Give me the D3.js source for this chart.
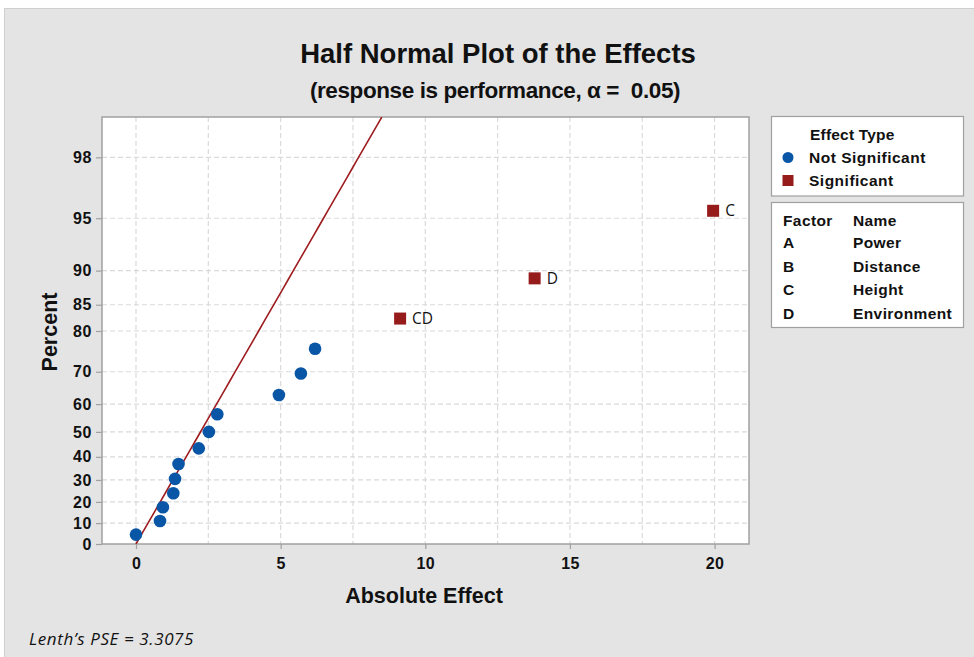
<!DOCTYPE html>
<html>
<head>
<meta charset="utf-8">
<script src="https://cdn.jsdelivr.net/npm/d3@7"></script>
<style>
  html, body { margin: 0; padding: 0; background: #ffffff; }
  svg { display: block; }
  .bold { font-family: "Liberation Sans", Arial, sans-serif; font-weight: bold; fill: #111; }
</style>
</head>
<body>
<svg id="chart" width="974" height="657"></svg>
<script>
// Absolute effects, sorted, with their half-normal plotting percents
const effectNames = ["", "", "", "", "", "", "", "", "", "", "", "", "CD", "D", "C"];
const absEffects  = [0.0, 0.83, 0.93, 1.29, 1.35, 1.47, 2.17, 2.52, 2.81, 4.94, 5.70, 6.19, 9.13, 13.78, 19.95];
const percents    = [4.5, 11.0, 17.5, 24.0, 30.5, 37.0, 43.5, 50.0, 56.5, 63.0, 69.5, 76.0, 82.5, 89.0, 95.5];
const significant = [false, false, false, false, false, false, false, false, false, false, false, false, true, true, true];

const lenthPSE = 3.3075;
const xTicks = [0, 5, 10, 15, 20];
const xGrid = [0, 2.5, 5, 7.5, 10, 12.5, 15, 17.5, 20];
const yTicks = [0, 10, 20, 30, 40, 50, 60, 70, 80, 85, 90, 95, 98];

const factorLetters = ["A", "B", "C", "D"];
const factorNames = ["Power", "Distance", "Height", "Environment"];

// Inverse standard normal CDF (Acklam)
function probit(p) {
  const a = [-3.969683028665376e+01, 2.209460984245205e+02, -2.759285104469687e+02, 1.383577518672690e+02, -3.066479806614716e+01, 2.506628277459239e+00];
  const b = [-5.447609879822406e+01, 1.615858368580409e+02, -1.556989798598866e+02, 6.680131188771972e+01, -1.328068155288572e+01];
  const c = [-7.784894002430293e-03, -3.223964580411365e-01, -2.400758277161838e+00, -2.549732539343734e+00, 4.374664141464968e+00, 2.938163982698783e+00];
  const d = [7.784695709041462e-03, 3.224671290700398e-01, 2.445134137142996e+00, 3.754408145537555e+00];
  const pl = 0.02425;
  let q, r;
  if (p < pl) {
    q = Math.sqrt(-2 * Math.log(p));
    return (((((c[0]*q+c[1])*q+c[2])*q+c[3])*q+c[4])*q+c[5]) / ((((d[0]*q+d[1])*q+d[2])*q+d[3])*q+1);
  } else if (p <= 1 - pl) {
    q = p - 0.5; r = q * q;
    return (((((a[0]*r+a[1])*r+a[2])*r+a[3])*r+a[4])*r+a[5])*q / (((((b[0]*r+b[1])*r+b[2])*r+b[3])*r+b[4])*r+1);
  } else {
    q = Math.sqrt(-2 * Math.log(1 - p));
    return -(((((c[0]*q+c[1])*q+c[2])*q+c[3])*q+c[4])*q+c[5]) / ((((d[0]*q+d[1])*q+d[2])*q+d[3])*q+1);
  }
}
// half-normal score for a percent
const hn = pct => probit(0.5 + pct / 200);

const svg = d3.select("#chart");

// outer panel
svg.append("rect").attr("x", 4.5).attr("y", 8.5).attr("width", 975).attr("height", 660)
  .attr("fill", "#e4e4e4").attr("stroke", "#cfcfcf");

const plot = { left: 102, top: 117, right: 749, bottom: 544 };

const x = d3.scaleLinear().domain([-1.175, 21.19]).range([plot.left, plot.right]);
const zTop = hn(98.98);
const yz = d3.scaleLinear().domain([0, zTop]).range([plot.bottom, plot.top]);
const y = pct => yz(hn(pct));

// plot background
svg.append("rect").attr("x", plot.left).attr("y", plot.top)
  .attr("width", plot.right - plot.left).attr("height", plot.bottom - plot.top)
  .attr("fill", "#ffffff");

// grid
const grid = svg.append("g").attr("stroke", "#dadada").attr("stroke-width", 1.2).attr("stroke-dasharray", "5,3");
grid.selectAll("line.v").data(xGrid).join("line").attr("class", "v")
  .attr("x1", d => x(d)).attr("x2", d => x(d)).attr("y1", plot.top).attr("y2", plot.bottom);
grid.selectAll("line.h").data(yTicks.filter(d => d > 0)).join("line").attr("class", "h")
  .attr("y1", d => y(d)).attr("y2", d => y(d)).attr("x1", plot.left).attr("x2", plot.right);

// axes
const xAxis = d3.axisBottom(x).tickValues(xTicks).tickSize(5).tickPadding(9).tickFormat(d3.format("d"));
const gx = svg.append("g").attr("transform", `translate(0,${plot.bottom})`).call(xAxis);
gx.select(".domain").remove();
gx.selectAll(".tick line").attr("stroke", "#a0a0a0").attr("stroke-width", 1.2);
gx.selectAll(".tick text").attr("font-size", 16).attr("fill", "#111").attr("letter-spacing", 0.3)
  .attr("font-family", "Liberation Sans, Arial, sans-serif").attr("font-weight", "bold");

const yAxis = d3.axisLeft(yz).tickValues(yTicks.map(hn)).tickSize(6).tickPadding(4)
  .tickFormat((d, i) => yTicks[i]);
const gy = svg.append("g").attr("transform", `translate(${plot.left},0)`).call(yAxis);
gy.select(".domain").remove();
gy.selectAll(".tick line").attr("stroke", "#a0a0a0").attr("stroke-width", 1.2);
gy.selectAll(".tick text").attr("font-size", 16).attr("fill", "#111").attr("letter-spacing", 0.6)
  .attr("font-family", "Liberation Sans, Arial, sans-serif").attr("font-weight", "bold");

// plot border
svg.append("rect").attr("x", plot.left).attr("y", plot.top)
  .attr("width", plot.right - plot.left).attr("height", plot.bottom - plot.top)
  .attr("fill", "none").attr("stroke", "#a0a0a0").attr("stroke-width", 1.5);

// reference line: effect = PSE * half-normal score
const clip = svg.append("clipPath").attr("id", "plotclip").append("rect")
  .attr("x", plot.left).attr("y", plot.top).attr("width", plot.right - plot.left).attr("height", plot.bottom - plot.top);
const zs = d3.range(0, zTop + 0.001, zTop / 50);
svg.append("path").attr("clip-path", "url(#plotclip)")
  .datum(zs)
  .attr("d", d3.line().x(z => x(lenthPSE * z)).y(z => yz(z)))
  .attr("fill", "none").attr("stroke", "#9e1c1f").attr("stroke-width", 1.6);

// points
const pts = absEffects.map((e, i) => ({ e, p: percents[i], sig: significant[i], name: effectNames[i] }));
svg.selectAll("circle.pt").data(pts.filter(d => !d.sig)).join("circle").attr("class", "pt")
  .attr("cx", d => x(d.e)).attr("cy", d => y(d.p)).attr("r", 6.3).attr("fill", "#0a56a6");
svg.selectAll("rect.pt").data(pts.filter(d => d.sig)).join("rect").attr("class", "pt")
  .attr("x", d => x(d.e) - 6).attr("y", d => y(d.p) - 6).attr("width", 12).attr("height", 12)
  .attr("fill", "#961b1b");
svg.selectAll("text.pl").data(pts.filter(d => d.name)).join("text").attr("class", "pl")
  .attr("x", d => x(d.e) + 12).attr("y", d => y(d.p) + 5.5)
  .attr("font-family", "Open Sans, Noto Sans, sans-serif").attr("font-size", 15.5).attr("fill", "#111")
  .text(d => d.name);

// titles
svg.append("text").attr("class", "bold").attr("x", 498).attr("y", 63).attr("text-anchor", "middle")
  .attr("font-size", 27.5).text("Half Normal Plot of the Effects");
svg.append("text").attr("class", "bold").attr("x", 495).attr("y", 98).attr("text-anchor", "middle")
  .style("white-space", "pre")
  .attr("font-size", 22.5).attr("letter-spacing", -0.4).text("(response is performance, α =  0.05)");
svg.append("text").attr("class", "bold").attr("x", 424).attr("y", 603).attr("text-anchor", "middle")
  .attr("font-size", 21.5).text("Absolute Effect");
svg.append("text").attr("class", "bold").attr("transform", "translate(57,332) rotate(-90)")
  .attr("text-anchor", "middle").attr("font-size", 21.5).text("Percent");
svg.append("text").attr("x", 29).attr("y", 645)
  .attr("font-family", "Open Sans, Noto Sans, sans-serif").attr("font-style", "italic")
  .attr("font-size", 17).attr("letter-spacing", 0.6).attr("fill", "#111").text("Lenth’s PSE = 3.3075");

// legend: effect type
const lg = svg.append("g");
const lfs = 15.5;
lg.append("rect").attr("x", 771.5).attr("y", 116.5).attr("width", 192).attr("height", 79.5)
  .attr("fill", "#ffffff").attr("stroke", "#a0a0a0").attr("stroke-width", 1.2);
lg.append("text").attr("class", "bold").attr("x", 810).attr("y", 140).attr("font-size", lfs)
  .attr("letter-spacing", 0.2).text("Effect Type");
lg.append("circle").attr("cx", 788).attr("cy", 157.5).attr("r", 5.5).attr("fill", "#0a56a6");
lg.append("text").attr("class", "bold").attr("x", 809).attr("y", 163).attr("font-size", lfs)
  .attr("letter-spacing", 0.5).text("Not Significant");
lg.append("rect").attr("x", 782.5).attr("y", 175).attr("width", 11).attr("height", 11).attr("fill", "#961b1b");
lg.append("text").attr("class", "bold").attr("x", 809).attr("y", 186).attr("font-size", lfs)
  .attr("letter-spacing", 0.5).text("Significant");

// legend: factor names
lg.append("rect").attr("x", 771.5).attr("y", 202.5).attr("width", 192).attr("height", 125)
  .attr("fill", "#ffffff").attr("stroke", "#a0a0a0").attr("stroke-width", 1.2);
lg.append("text").attr("class", "bold").attr("x", 783).attr("y", 225.5).attr("font-size", lfs)
  .attr("letter-spacing", 0.4).text("Factor");
lg.append("text").attr("class", "bold").attr("x", 853).attr("y", 225.5).attr("font-size", lfs)
  .attr("letter-spacing", 0.4).text("Name");
lg.selectAll("text.fl").data(factorLetters).join("text").attr("class", "bold fl")
  .attr("x", 783).attr("y", (d, i) => 248 + i * 23.5).attr("font-size", lfs).text(d => d);
lg.selectAll("text.fn").data(factorNames).join("text").attr("class", "bold fn")
  .attr("x", 853).attr("y", (d, i) => 248 + i * 23.5).attr("font-size", lfs)
  .attr("letter-spacing", 0.4).text(d => d);
</script>
</body>
</html>
